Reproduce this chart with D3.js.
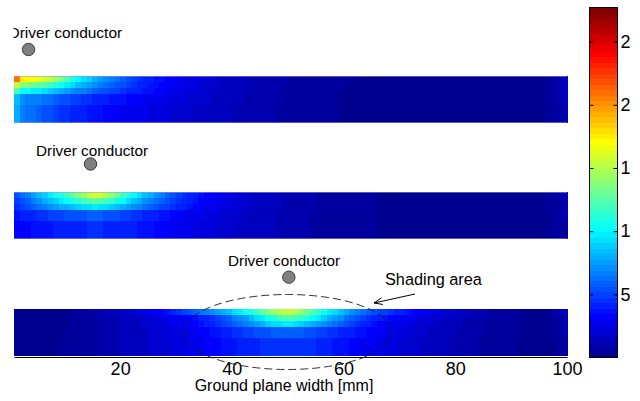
<!DOCTYPE html>
<html>
<head>
<meta charset="utf-8">
<script src="https://cdn.jsdelivr.net/npm/d3@7"></script>
<style>
  body { margin: 0; background: #fff; }
  svg { display: block; }
  text { font-family: "Liberation Sans", Arial, Helvetica, sans-serif; fill: #000; }
</style>
</head>
<body>
<svg id="chart" width="640" height="401"></svg>
<script>
// Current density in the ground plane: 5 depth layers (top = surface facing the conductor)
// by 99 cells across the width, one block per conductor position.
const strip1 = [
  [21.0, 17.4, 17.2, 16.9, 16.5, 16.0, 15.3, 14.4, 13.4, 12.3,
   11.2, 10.3, 9.5, 8.8, 8.2, 7.6, 7.1, 6.6, 6.1, 5.7,
   5.3, 4.9, 4.6, 4.3, 4.0, 3.8, 3.5, 3.3, 3.1, 2.9,
   2.7, 2.5, 2.4, 2.2, 2.1, 2.0, 1.8, 1.7, 1.6, 1.5,
   1.4, 1.3, 1.2, 1.2, 1.1, 1.0, 1.0, 0.9, 0.9, 0.8,
   0.8, 0.7, 0.7, 0.7, 0.6, 0.6, 0.6, 0.5, 0.5, 0.5,
   0.5, 0.4, 0.4, 0.4, 0.4, 0.4, 0.4, 0.3, 0.3, 0.3,
   0.3, 0.3, 0.3, 0.3, 0.3, 0.3, 0.3, 0.3, 0.3, 0.3,
   0.3, 0.3, 0.3, 0.3, 0.3, 0.3, 0.3, 0.3, 0.3, 0.3,
   0.3, 0.3, 0.3, 0.4, 0.4, 0.6, 0.8, 1.1, 1.6],
  [15.5, 13.9, 13.6, 13.3, 12.9, 12.4, 11.8, 11.1, 10.4, 9.7,
   9.1, 8.5, 8.0, 7.5, 7.1, 6.7, 6.3, 5.9, 5.5, 5.2,
   4.9, 4.6, 4.3, 4.0, 3.8, 3.6, 3.4, 3.2, 3.0, 2.8,
   2.6, 2.4, 2.3, 2.1, 2.0, 1.9, 1.8, 1.7, 1.6, 1.5,
   1.4, 1.3, 1.2, 1.1, 1.1, 1.0, 0.9, 0.9, 0.8, 0.8,
   0.7, 0.7, 0.7, 0.6, 0.6, 0.6, 0.5, 0.5, 0.5, 0.5,
   0.4, 0.4, 0.4, 0.4, 0.4, 0.4, 0.4, 0.3, 0.3, 0.3,
   0.3, 0.3, 0.3, 0.3, 0.3, 0.3, 0.3, 0.3, 0.3, 0.3,
   0.3, 0.3, 0.3, 0.3, 0.3, 0.3, 0.3, 0.3, 0.3, 0.3,
   0.3, 0.3, 0.3, 0.4, 0.4, 0.6, 0.8, 1.1, 1.5],
  [12.2, 10.3, 10.1, 9.9, 9.6, 9.2, 8.8, 8.4, 8.0, 7.6,
   7.2, 6.8, 6.5, 6.2, 5.9, 5.6, 5.3, 5.0, 4.8, 4.5,
   4.3, 4.1, 3.9, 3.7, 3.5, 3.3, 3.1, 3.0, 2.8, 2.6,
   2.5, 2.3, 2.2, 2.1, 2.0, 1.8, 1.7, 1.6, 1.5, 1.4,
   1.4, 1.3, 1.2, 1.1, 1.1, 1.0, 0.9, 0.9, 0.8, 0.8,
   0.7, 0.7, 0.6, 0.6, 0.6, 0.5, 0.5, 0.5, 0.5, 0.4,
   0.4, 0.4, 0.4, 0.4, 0.4, 0.4, 0.4, 0.3, 0.3, 0.3,
   0.3, 0.3, 0.3, 0.3, 0.3, 0.3, 0.3, 0.3, 0.3, 0.3,
   0.3, 0.3, 0.3, 0.3, 0.3, 0.3, 0.3, 0.3, 0.3, 0.3,
   0.3, 0.3, 0.3, 0.3, 0.4, 0.5, 0.7, 1.0, 1.4],
  [8.6, 7.0, 6.9, 6.8, 6.6, 6.4, 6.1, 5.9, 5.6, 5.4,
   5.1, 4.9, 4.7, 4.5, 4.3, 4.1, 3.9, 3.8, 3.6, 3.5,
   3.3, 3.2, 3.1, 2.9, 2.8, 2.7, 2.6, 2.5, 2.4, 2.3,
   2.2, 2.1, 2.0, 1.9, 1.8, 1.7, 1.6, 1.5, 1.4, 1.3,
   1.3, 1.2, 1.1, 1.1, 1.0, 1.0, 0.9, 0.9, 0.8, 0.8,
   0.7, 0.7, 0.6, 0.6, 0.6, 0.5, 0.5, 0.5, 0.4, 0.4,
   0.4, 0.4, 0.4, 0.4, 0.4, 0.4, 0.4, 0.3, 0.3, 0.3,
   0.3, 0.3, 0.3, 0.3, 0.3, 0.3, 0.3, 0.3, 0.3, 0.3,
   0.3, 0.3, 0.3, 0.3, 0.3, 0.3, 0.3, 0.3, 0.3, 0.3,
   0.3, 0.3, 0.3, 0.3, 0.4, 0.5, 0.7, 0.9, 1.3],
  [8.0, 6.5, 6.3, 6.1, 5.8, 5.5, 5.2, 4.9, 4.6, 4.4,
   4.2, 4.0, 3.9, 3.7, 3.6, 3.5, 3.4, 3.2, 3.1, 3.0,
   2.9, 2.8, 2.7, 2.6, 2.5, 2.4, 2.3, 2.2, 2.1, 2.0,
   1.9, 1.8, 1.7, 1.7, 1.6, 1.5, 1.4, 1.4, 1.3, 1.2,
   1.2, 1.1, 1.1, 1.0, 1.0, 0.9, 0.9, 0.8, 0.8, 0.7,
   0.7, 0.7, 0.6, 0.6, 0.6, 0.5, 0.5, 0.5, 0.4, 0.4,
   0.4, 0.4, 0.4, 0.4, 0.4, 0.4, 0.4, 0.3, 0.3, 0.3,
   0.3, 0.3, 0.3, 0.3, 0.3, 0.3, 0.3, 0.3, 0.3, 0.3,
   0.3, 0.3, 0.3, 0.3, 0.3, 0.3, 0.3, 0.3, 0.3, 0.3,
   0.3, 0.3, 0.3, 0.3, 0.4, 0.5, 0.6, 0.8, 1.2]
];

const strip2 = [
  [5.6, 6.2, 6.9, 7.6, 8.3, 9.0, 9.7, 10.4, 11.2, 12.0,
   12.9, 13.8, 14.7, 15.4, 15.8, 15.6, 15.0, 14.1, 13.1, 12.1,
   11.1, 10.2, 9.3, 8.5, 7.8, 7.1, 6.5, 5.9, 5.4, 5.0,
   4.6, 4.2, 3.9, 3.6, 3.3, 3.1, 2.9, 2.7, 2.5, 2.3,
   2.1, 2.0, 1.8, 1.7, 1.6, 1.5, 1.4, 1.3, 1.2, 1.1,
   1.0, 1.0, 0.9, 0.9, 0.8, 0.8, 0.7, 0.7, 0.6, 0.6,
   0.6, 0.5, 0.5, 0.5, 0.5, 0.4, 0.4, 0.4, 0.4, 0.4,
   0.4, 0.3, 0.3, 0.3, 0.3, 0.3, 0.3, 0.3, 0.3, 0.3,
   0.3, 0.3, 0.3, 0.3, 0.3, 0.3, 0.3, 0.3, 0.3, 0.3,
   0.3, 0.3, 0.3, 0.4, 0.4, 0.5, 0.7, 0.9, 1.2],
  [5.0, 5.5, 6.0, 6.6, 7.2, 7.8, 8.4, 9.0, 9.6, 10.2,
   10.8, 11.4, 12.0, 12.4, 12.6, 12.4, 12.0, 11.4, 10.7, 10.0,
   9.3, 8.6, 7.9, 7.3, 6.7, 6.2, 5.7, 5.3, 4.9, 4.5,
   4.2, 3.9, 3.6, 3.4, 3.2, 3.0, 2.8, 2.6, 2.4, 2.2,
   2.1, 1.9, 1.8, 1.7, 1.6, 1.5, 1.4, 1.3, 1.2, 1.1,
   1.0, 1.0, 0.9, 0.9, 0.8, 0.8, 0.7, 0.7, 0.6, 0.6,
   0.6, 0.5, 0.5, 0.5, 0.5, 0.4, 0.4, 0.4, 0.4, 0.4,
   0.4, 0.3, 0.3, 0.3, 0.3, 0.3, 0.3, 0.3, 0.3, 0.3,
   0.3, 0.3, 0.3, 0.3, 0.3, 0.3, 0.3, 0.3, 0.3, 0.3,
   0.3, 0.3, 0.3, 0.3, 0.4, 0.5, 0.6, 0.8, 1.1],
  [4.6, 5.0, 5.4, 5.8, 6.2, 6.6, 7.0, 7.4, 7.8, 8.2,
   8.6, 9.0, 9.3, 9.5, 9.6, 9.5, 9.2, 8.8, 8.4, 7.9,
   7.5, 7.0, 6.6, 6.2, 5.8, 5.4, 5.1, 4.8, 4.5, 4.2,
   3.9, 3.7, 3.4, 3.2, 3.0, 2.8, 2.6, 2.5, 2.3, 2.2,
   2.0, 1.9, 1.8, 1.7, 1.6, 1.5, 1.4, 1.3, 1.2, 1.1,
   1.0, 1.0, 0.9, 0.9, 0.8, 0.8, 0.7, 0.7, 0.6, 0.6,
   0.6, 0.5, 0.5, 0.5, 0.5, 0.4, 0.4, 0.4, 0.4, 0.4,
   0.4, 0.3, 0.3, 0.3, 0.3, 0.3, 0.3, 0.3, 0.3, 0.3,
   0.3, 0.3, 0.3, 0.3, 0.3, 0.3, 0.3, 0.3, 0.3, 0.3,
   0.3, 0.3, 0.3, 0.3, 0.4, 0.5, 0.6, 0.8, 1.0],
  [3.8, 4.0, 4.1, 4.3, 4.5, 4.6, 4.8, 5.0, 5.1, 5.3,
   5.4, 5.5, 5.6, 5.7, 5.7, 5.7, 5.6, 5.5, 5.3, 5.1,
   4.9, 4.7, 4.5, 4.3, 4.1, 3.9, 3.7, 3.5, 3.3, 3.2,
   3.0, 2.9, 2.7, 2.6, 2.5, 2.4, 2.2, 2.1, 2.0, 1.9,
   1.8, 1.7, 1.6, 1.5, 1.4, 1.3, 1.3, 1.2, 1.1, 1.1,
   1.0, 0.9, 0.9, 0.8, 0.8, 0.7, 0.7, 0.7, 0.6, 0.6,
   0.6, 0.5, 0.5, 0.5, 0.5, 0.4, 0.4, 0.4, 0.4, 0.4,
   0.4, 0.3, 0.3, 0.3, 0.3, 0.3, 0.3, 0.3, 0.3, 0.3,
   0.3, 0.3, 0.3, 0.3, 0.3, 0.3, 0.3, 0.3, 0.3, 0.3,
   0.3, 0.3, 0.3, 0.3, 0.4, 0.4, 0.5, 0.7, 0.9],
  [3.2, 3.3, 3.4, 3.5, 3.6, 3.7, 3.8, 3.9, 4.0, 4.1,
   4.2, 4.3, 4.3, 4.4, 4.4, 4.4, 4.3, 4.3, 4.2, 4.1,
   4.0, 3.9, 3.7, 3.6, 3.5, 3.3, 3.2, 3.1, 2.9, 2.8,
   2.7, 2.6, 2.5, 2.4, 2.3, 2.2, 2.1, 2.0, 1.9, 1.8,
   1.7, 1.6, 1.5, 1.5, 1.4, 1.3, 1.3, 1.2, 1.1, 1.1,
   1.0, 0.9, 0.9, 0.8, 0.8, 0.7, 0.7, 0.7, 0.6, 0.6,
   0.6, 0.5, 0.5, 0.5, 0.5, 0.4, 0.4, 0.4, 0.4, 0.4,
   0.4, 0.3, 0.3, 0.3, 0.3, 0.3, 0.3, 0.3, 0.3, 0.3,
   0.3, 0.3, 0.3, 0.3, 0.3, 0.3, 0.3, 0.3, 0.3, 0.3,
   0.3, 0.3, 0.3, 0.3, 0.4, 0.4, 0.5, 0.6, 0.8]
];

const strip3 = [
  [0.3, 0.3, 0.3, 0.3, 0.3, 0.3, 0.3, 0.3, 0.3, 0.4,
   0.5, 0.6, 0.7, 0.8, 0.9, 1.0, 1.2, 1.3, 1.5, 1.7,
   1.9, 2.1, 2.3, 2.6, 2.8, 3.1, 3.4, 3.8, 4.1, 4.5,
   4.9, 5.3, 5.7, 6.1, 6.6, 7.0, 7.5, 8.0, 8.6, 9.2,
   9.8, 10.4, 11.0, 11.8, 12.6, 13.5, 14.4, 15.1, 15.5, 15.4,
   14.9, 14.1, 13.2, 12.3, 11.4, 10.6, 9.8, 9.1, 8.5, 7.9,
   7.3, 6.8, 6.3, 5.9, 5.5, 5.1, 4.8, 4.5, 4.2, 3.9,
   3.6, 3.4, 3.1, 2.9, 2.7, 2.5, 2.3, 2.1, 1.9, 1.7,
   1.5, 1.3, 1.2, 1.0, 0.9, 0.8, 0.7, 0.6, 0.5, 0.5,
   0.4, 0.4, 0.3, 0.3, 0.3, 0.4, 0.6, 0.9, 1.3],
  [0.3, 0.3, 0.3, 0.3, 0.3, 0.3, 0.3, 0.3, 0.4, 0.4,
   0.5, 0.5, 0.6, 0.7, 0.8, 0.9, 1.0, 1.1, 1.2, 1.3,
   1.5, 1.6, 1.7, 1.9, 2.0, 2.2, 2.4, 2.6, 2.8, 3.0,
   3.2, 3.4, 3.7, 4.0, 4.3, 4.7, 5.1, 5.5, 6.0, 6.5,
   7.1, 7.7, 8.4, 9.1, 9.8, 10.5, 11.2, 11.8, 12.3, 12.4,
   12.1, 11.6, 11.0, 10.3, 9.6, 8.9, 8.2, 7.6, 7.0, 6.4,
   5.9, 5.4, 5.0, 4.6, 4.3, 4.0, 3.7, 3.4, 3.2, 3.0,
   2.8, 2.6, 2.4, 2.2, 2.1, 1.9, 1.8, 1.7, 1.5, 1.4,
   1.3, 1.2, 1.1, 1.0, 0.9, 0.8, 0.7, 0.6, 0.6, 0.5,
   0.5, 0.4, 0.4, 0.3, 0.3, 0.4, 0.5, 0.8, 1.1],
  [0.3, 0.3, 0.3, 0.3, 0.3, 0.3, 0.3, 0.3, 0.4, 0.4,
   0.5, 0.5, 0.6, 0.7, 0.8, 0.9, 1.0, 1.1, 1.2, 1.3,
   1.4, 1.5, 1.6, 1.8, 1.9, 2.1, 2.2, 2.4, 2.6, 2.8,
   3.0, 3.2, 3.4, 3.7, 4.0, 4.3, 4.6, 5.0, 5.4, 5.8,
   6.2, 6.7, 7.2, 7.7, 8.2, 8.7, 9.1, 9.4, 9.6, 9.6,
   9.4, 9.0, 8.6, 8.1, 7.6, 7.1, 6.6, 6.1, 5.7, 5.3,
   4.9, 4.5, 4.2, 3.9, 3.6, 3.4, 3.2, 3.0, 2.8, 2.6,
   2.4, 2.3, 2.1, 2.0, 1.9, 1.7, 1.6, 1.5, 1.4, 1.3,
   1.2, 1.1, 1.0, 0.9, 0.8, 0.7, 0.7, 0.6, 0.6, 0.5,
   0.5, 0.4, 0.4, 0.3, 0.3, 0.4, 0.5, 0.7, 1.0],
  [0.3, 0.3, 0.3, 0.3, 0.3, 0.3, 0.3, 0.4, 0.4, 0.5,
   0.5, 0.6, 0.7, 0.7, 0.8, 0.9, 1.0, 1.1, 1.2, 1.3,
   1.4, 1.5, 1.6, 1.7, 1.8, 1.9, 2.1, 2.2, 2.4, 2.5,
   2.7, 2.9, 3.0, 3.2, 3.4, 3.6, 3.8, 4.0, 4.2, 4.4,
   4.6, 4.8, 5.0, 5.2, 5.4, 5.5, 5.7, 5.8, 5.9, 5.9,
   5.8, 5.7, 5.5, 5.3, 5.1, 4.9, 4.7, 4.5, 4.3, 4.1,
   3.9, 3.7, 3.5, 3.3, 3.1, 2.9, 2.8, 2.6, 2.5, 2.3,
   2.2, 2.1, 1.9, 1.8, 1.7, 1.6, 1.5, 1.4, 1.3, 1.2,
   1.1, 1.0, 0.9, 0.9, 0.8, 0.7, 0.7, 0.6, 0.5, 0.5,
   0.5, 0.4, 0.4, 0.3, 0.3, 0.4, 0.5, 0.6, 0.9],
  [0.3, 0.3, 0.3, 0.3, 0.3, 0.3, 0.4, 0.4, 0.5, 0.5,
   0.6, 0.6, 0.7, 0.8, 0.8, 0.9, 1.0, 1.1, 1.2, 1.3,
   1.4, 1.5, 1.6, 1.7, 1.8, 1.9, 2.0, 2.1, 2.2, 2.4,
   2.5, 2.6, 2.8, 2.9, 3.1, 3.2, 3.4, 3.5, 3.7, 3.8,
   4.0, 4.1, 4.2, 4.3, 4.4, 4.5, 4.6, 4.6, 4.7, 4.7,
   4.6, 4.6, 4.5, 4.4, 4.3, 4.1, 4.0, 3.8, 3.7, 3.5,
   3.3, 3.2, 3.0, 2.9, 2.7, 2.6, 2.5, 2.3, 2.2, 2.1,
   2.0, 1.9, 1.8, 1.7, 1.6, 1.5, 1.4, 1.3, 1.2, 1.1,
   1.0, 1.0, 0.9, 0.8, 0.8, 0.7, 0.6, 0.6, 0.5, 0.5,
   0.4, 0.4, 0.4, 0.3, 0.3, 0.4, 0.4, 0.6, 0.8]
];

// Conductor position along the width (mm) for each block
const conductorPos = [3.6, 14.7, 50.2];
// Relative depth of the layer boundaries (0 = top surface, 1 = bottom)
const layerEdges = [0, 0.125, 0.25, 0.375, 0.625, 1];
// Width coordinate of the cell edges: cells run between consecutive integers 1..100
const widthDomain = [1, 100];
const xTickValues = [20, 40, 60, 80, 100];
const colorDomain = [0, 27.7];
const colorTickValues = [5, 10, 15, 20, 25];
// Colorbar tick labels as printed: only the leading digit fits in the right margin
const colorTickLabels = ["5", "1", "1", "2", "2"];
const xTitle = "Ground plane width [mm]";
const conductorText = "Driver conductor";
const shadingText = "Shading area";

const svg = d3.select("#chart");
svg.append("rect").attr("width", 640).attr("height", 401).attr("fill", "#fff");

const x = d3.scaleLinear().domain(widthDomain).range([14, 567]);

// MATLAB-style jet colormap with 64 levels
function jet(t) {
  const c = v => Math.max(0, Math.min(1, v));
  return d3.rgb(255 * c(1.5 - Math.abs(4 * t - 3)),
                255 * c(1.5 - Math.abs(4 * t - 2)),
                255 * c(1.5 - Math.abs(4 * t - 1))).formatHex();
}
const jetColors = d3.range(1, 65).map(k => jet(k / 64));
const color = d3.scaleQuantize().domain(colorDomain).range(jetColors);

// Heat-map blocks
const blocks = [strip1, strip2, strip3];
const blockTops = [76, 192, 309];
const blockHeight = 47;

blocks.forEach((rows, b) => {
  const depth = d3.scaleLinear().domain([0, 1]).range([blockTops[b], blockTops[b] + blockHeight]);
  const g = svg.append("g").attr("class", "block").attr("shape-rendering", "crispEdges");
  rows.forEach((vals, r) => {
    g.selectAll(null)
      .data(vals)
      .join("rect")
      .attr("x", (d, i) => x(i + 1))
      .attr("width", (d, i) => x(i + 2) - x(i + 1) + 0.6)
      .attr("y", depth(layerEdges[r]))
      .attr("height", depth(layerEdges[r + 1]) - depth(layerEdges[r]) + 0.4)
      .attr("fill", d => color(d));
  });
  // soft light rim along the upper and lower edge of the two upper blocks
  if (b < 2) {
    g.selectAll("line.rim")
      .data([blockTops[b] + 0.5, blockTops[b] + blockHeight - 0.5])
      .join("line")
      .attr("class", "rim")
      .attr("x1", x(widthDomain[0])).attr("x2", x(widthDomain[1]))
      .attr("y1", d => d).attr("y2", d => d)
      .attr("stroke", "#9a9ae0").attr("stroke-opacity", 0.55).attr("stroke-width", 1);
  }
});

// Bottom axis
const xAxis = d3.axisBottom(x)
  .tickValues(xTickValues)
  .tickSizeInner(0)
  .tickSizeOuter(0)
  .tickPadding(5)
  .tickFormat(d3.format("d"));
const gx = svg.append("g").attr("transform", "translate(0,357)").call(xAxis);
gx.select(".domain").attr("stroke", "#000").attr("stroke-width", 1);
gx.selectAll("text").attr("font-size", 18).attr("fill", "#000")
  .attr("font-family", "'Liberation Sans', Arial, sans-serif");

svg.append("text")
  .attr("x", 284).attr("y", 391)
  .attr("text-anchor", "middle")
  .attr("font-size", 16)
  .text(xTitle);

// Colorbar
const cb = d3.scaleLinear().domain(colorDomain).range([357.5, 7.5]);
const cbX = 589.5, cbW = 28;
const step = (colorDomain[1] - colorDomain[0]) / 64;
svg.append("g").attr("shape-rendering", "crispEdges")
  .selectAll("rect")
  .data(jetColors)
  .join("rect")
  .attr("x", cbX)
  .attr("width", cbW)
  .attr("y", (d, k) => cb(colorDomain[0] + (k + 1) * step))
  .attr("height", (d, k) => cb(colorDomain[0] + k * step) - cb(colorDomain[0] + (k + 1) * step) + 0.5)
  .attr("fill", d => d);
svg.append("rect")
  .attr("x", cbX).attr("y", 7.5).attr("width", cbW).attr("height", 350)
  .attr("fill", "none").attr("stroke", "#000").attr("stroke-width", 1);

const cbRight = svg.append("g")
  .attr("transform", `translate(${cbX + cbW},0)`)
  .call(d3.axisRight(cb)
    .tickValues(colorTickValues)
    .tickSizeInner(-4)
    .tickSizeOuter(0)
    .tickPadding(3)
    .tickFormat((d, i) => colorTickLabels[i]));
cbRight.select(".domain").remove();
cbRight.selectAll("line").attr("stroke", "#000");
cbRight.selectAll("text").attr("font-size", 18).attr("fill", "#000")
  .attr("font-family", "'Liberation Sans', Arial, sans-serif");

const cbLeft = svg.append("g")
  .attr("transform", `translate(${cbX},0)`)
  .call(d3.axisLeft(cb).tickValues(colorTickValues).tickSizeInner(-4).tickSizeOuter(0).tickFormat(""));
cbLeft.select(".domain").remove();
cbLeft.selectAll("line").attr("stroke", "#000");

// Conductor markers and labels
const markerY = [49.5, 164, 277.2];
const labelPos = [[8.5, 38], [36, 155.5], [228, 265.5]];

svg.append("defs").append("clipPath").attr("id", "leftClip")
  .append("rect").attr("x", 13.5).attr("y", 0).attr("width", 626).attr("height", 401);

conductorPos.forEach((p, i) => {
  svg.append("text")
    .attr("x", labelPos[i][0]).attr("y", labelPos[i][1])
    .attr("font-size", i === 0 ? 15.5 : 15.3)
    .attr("clip-path", i === 0 ? "url(#leftClip)" : null)
    .text(conductorText);
  svg.append("circle")
    .attr("cx", x(p)).attr("cy", markerY[i]).attr("r", 6.2)
    .attr("fill", "#808080").attr("stroke", "#3c3c3c").attr("stroke-width", 1);
});

// Shading area: dashed ellipse around the hot spot of the lower block
svg.append("ellipse")
  .attr("cx", 287.5).attr("cy", 332).attr("rx", 103.5).attr("ry", 37.5)
  .attr("fill", "none").attr("stroke", "#1a1a1a").attr("stroke-width", 0.9)
  .attr("stroke-dasharray", "8,4");

svg.append("text")
  .attr("x", 385).attr("y", 285)
  .attr("font-size", 16.3)
  .text(shadingText);

// Arrow pointing at the ellipse
const tip = [374, 303], tail = [415, 294];
const ang = Math.atan2(tail[1] - tip[1], tail[0] - tip[0]);
const head = 9, spread = 0.38;
svg.append("path")
  .attr("d", `M${tail[0]},${tail[1]}L${tip[0]},${tip[1]}` +
    `M${tip[0] + head * Math.cos(ang - spread)},${tip[1] + head * Math.sin(ang - spread)}L${tip[0]},${tip[1]}` +
    `L${tip[0] + head * Math.cos(ang + spread)},${tip[1] + head * Math.sin(ang + spread)}`)
  .attr("fill", "none").attr("stroke", "#000").attr("stroke-width", 1);
</script>
</body>
</html>
